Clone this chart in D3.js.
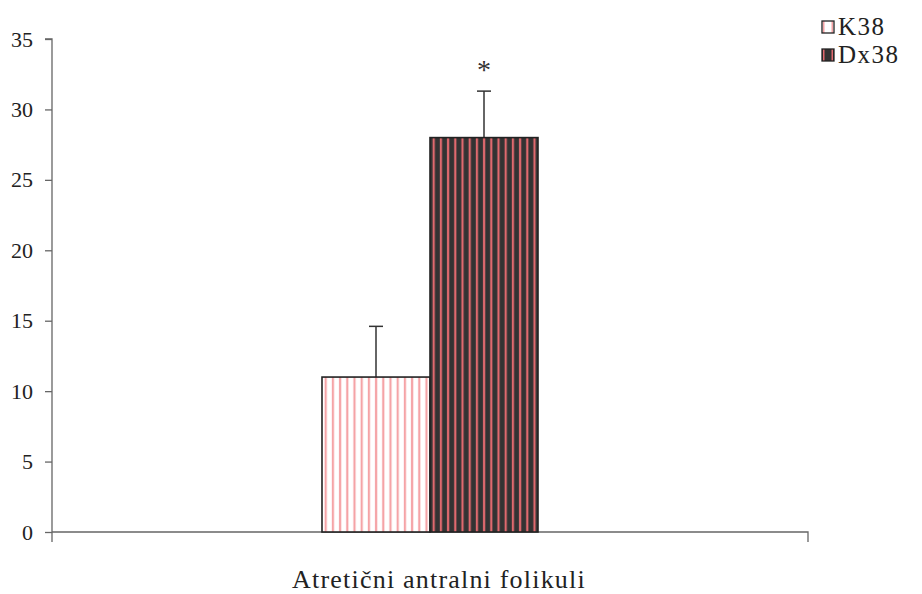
<!DOCTYPE html>
<html><head><meta charset="utf-8">
<script src="https://cdn.jsdelivr.net/npm/d3@7"></script>
<style>body{margin:0;background:#fff}svg{display:block}</style>
</head><body>
<script>
const categories = ["Atretični antralni folikuli"];
const seriesNames = ["K38", "Dx38"];
const values = [11, 28];
const errors = [3.6, 3.3];
const significance = ["", "*"];
const yTicks = [0, 5, 10, 15, 20, 25, 30, 35];

(function () {
const FONT = '"Liberation Serif", "Times New Roman", serif';
const W = 922, H = 594;
const svg = d3.select("body").append("svg").attr("width", W).attr("height", H)
  .style("font-family", FONT);
const defs = svg.append("defs");
const pats = [
  {id: "pK", bg: "#ffffff", fg: "#f5a3a6"},
  {id: "pD", bg: "#333333", fg: "#e0696e"}
];
pats.forEach(p => {
  const pt = defs.append("pattern").attr("id", p.id).attr("patternUnits", "userSpaceOnUse")
    .attr("width", 7.2).attr("height", 10);
  pt.append("rect").attr("width", 7.2).attr("height", 10).attr("fill", p.bg);
  pt.append("rect").attr("x", 2.6).attr("width", 2.2).attr("height", 10).attr("fill", p.fg);
});

const mL = 52, mR = 808, mT = 39, mB = 532;
const y = d3.scaleLinear().domain([0, 35]).range([mB, mT]);
const x0 = d3.scaleBand().domain(categories).range([mL, mR]).paddingInner(0).paddingOuter(1.25);
const x1 = d3.scaleBand().domain(seriesNames).range([0, x0.bandwidth()]);

// axes
const yAxis = svg.append("g").attr("transform", `translate(${mL},0)`)
  .call(d3.axisLeft(y).tickValues(yTicks).tickSize(7).tickPadding(12).tickFormat(d3.format("d")));
yAxis.attr("font-family", FONT);
yAxis.selectAll("line,path").attr("stroke", "#666").attr("stroke-width", 1.3);
yAxis.select(".domain").attr("d", `M-7,${mT}H0V${mB}`);
yAxis.selectAll("text").attr("font-size", 22).attr("fill", "#222").attr("font-family", FONT);

const xg = svg.append("g");
xg.append("path").attr("d", `M${mL},${mB}H${mR}V${mB + 10}M${mL},${mB}V${mB + 10}`)
  .attr("stroke", "#666").attr("stroke-width", 1.3).attr("fill", "none");

// bars
const g = svg.append("g").attr("transform", `translate(${x0(categories[0])},0)`);
seriesNames.forEach((s, i) => {
  const bx = x1(s), bw = x1.bandwidth(), cx = bx + bw / 2;
  g.append("line").attr("x1", cx).attr("x2", cx).attr("y1", y(values[i])).attr("y2", y(values[i] + errors[i]))
    .attr("stroke", "#333").attr("stroke-width", 1.5);
  g.append("line").attr("x1", cx - 7).attr("x2", cx + 7).attr("y1", y(values[i] + errors[i])).attr("y2", y(values[i] + errors[i]))
    .attr("stroke", "#333").attr("stroke-width", 1.5);
  g.append("rect").attr("x", bx).attr("y", y(values[i])).attr("width", bw).attr("height", y(0) - y(values[i]))
    .attr("fill", `url(#${pats[i].id})`).attr("stroke", "#222").attr("stroke-width", 1.6);
  if (significance[i]) {
    g.append("text").attr("x", cx).attr("y", y(values[i] + errors[i]) - 12).attr("text-anchor", "middle")
      .attr("font-size", 28).attr("fill", "#333").attr("font-family", FONT).text(significance[i]);
  }
});

// category label
svg.append("text").attr("x", x0(categories[0]) + x0.bandwidth() / 2 + 9).attr("y", 588)
  .attr("text-anchor", "middle").attr("font-size", 26).attr("letter-spacing", 1.2)
  .attr("fill", "#222").attr("font-family", FONT)
  .text(categories[0]);

// legend
seriesNames.forEach((s, i) => {
  const ly = 27 + i * 28;
  const lg = svg.append("g").attr("transform", `translate(822,${ly})`);
  const lp = defs.append("pattern").attr("id", "leg" + i).attr("patternUnits", "userSpaceOnUse")
    .attr("x", 822).attr("width", 12).attr("height", 12);
  lp.append("rect").attr("width", 12).attr("height", 12).attr("fill", pats[i].bg);
  lp.append("rect").attr("x", 3.5).attr("width", 1.5).attr("height", 12).attr("fill", pats[i].fg);
  lp.append("rect").attr("x", 7).attr("width", 1.5).attr("height", 12).attr("fill", pats[i].fg);
  lg.append("rect").attr("x", 0).attr("y", -6).attr("width", 12).attr("height", 12)
    .attr("fill", `url(#leg${i})`).attr("stroke", "#222").attr("stroke-width", 1.3);
  lg.append("text").attr("x", 16).attr("y", 8).attr("font-size", 25).attr("letter-spacing", 1.5)
    .attr("fill", "#222").attr("font-family", FONT).text(s);
});
})();
</script>
</body></html>
